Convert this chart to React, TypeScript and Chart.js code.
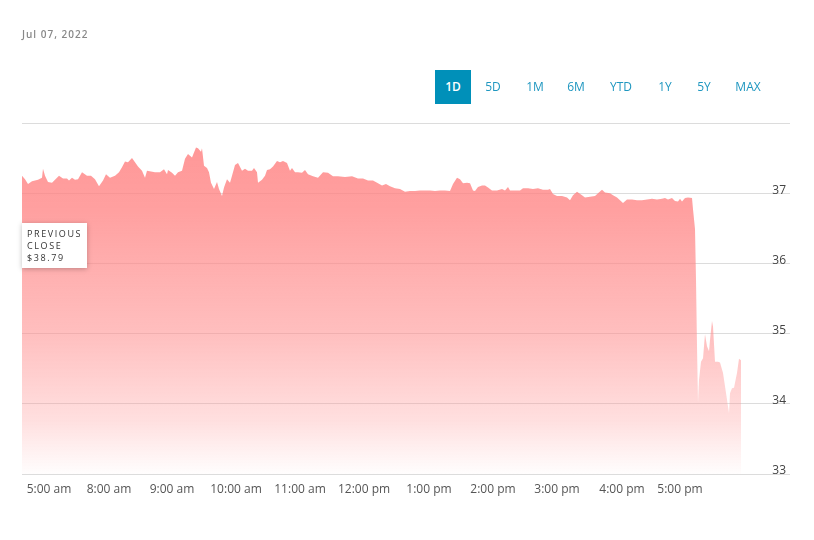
import { useEffect, useRef } from 'react';
import { Chart, registerables } from 'chart.js';

Chart.register(...registerables);

// session index (minute-slot) and price
const TIMES = [
  0, 3, 6, 10, 13, 16, 20, 21, 23, 26, 30, 33, 37, 41, 45, 47, 50, 53, 56, 60,
  65, 69, 73, 77, 81, 84, 88, 93, 97, 100, 103, 106, 110, 113, 116, 120, 123, 125, 129, 133,
  138, 142, 145, 146, 150, 153, 156, 160, 163, 166, 170, 174, 176, 179, 180, 182, 185, 187, 189, 192,
  195, 197, 200, 202, 205, 208, 210, 213, 216, 220, 223, 226, 230, 232, 235, 236, 240, 243, 245, 248,
  251, 255, 258, 261, 265, 268, 270, 273, 276, 280, 283, 286, 291, 296, 301, 306, 311, 316, 323, 330,
  336, 341, 346, 351, 356, 360, 364, 368, 373, 378, 383, 388, 393, 398, 403, 408, 413, 418, 423, 428,
  431, 435, 438, 441, 445, 448, 451, 453, 456, 460, 463, 466, 470, 475, 480, 483, 486, 488, 493, 498,
  501, 506, 511, 516, 521, 526, 528, 531, 535, 540, 545, 548, 551, 555, 560, 563, 568, 573, 576, 580,
  583, 588, 591, 595, 598, 601, 605, 610, 615, 620, 625, 630, 635, 640, 643, 646, 650, 653, 656, 658,
  660, 663, 666, 670, 671, 673, 674, 675, 676, 677, 679, 681, 683, 685, 687, 688, 690, 691, 693, 696,
  698, 701, 703, 706, 707, 708, 710, 712, 715, 717, 719,
];
const PRICES = [
  37.25, 37.2, 37.13, 37.17, 37.18, 37.19, 37.22, 37.35, 37.25, 37.16, 37.15, 37.19, 37.25, 37.21, 37.21, 37.18, 37.22, 37.19, 37.2, 37.3,
  37.25, 37.25, 37.2, 37.1, 37.18, 37.27, 37.22, 37.25, 37.3, 37.37, 37.45, 37.44, 37.5, 37.44, 37.38, 37.32, 37.22, 37.32, 37.31, 37.3,
  37.3, 37.34, 37.27, 37.33, 37.29, 37.25, 37.3, 37.32, 37.49, 37.56, 37.51, 37.65, 37.64, 37.59, 37.64, 37.39, 37.36, 37.3, 37.15, 37.06,
  37.16, 37.06, 36.96, 37.08, 37.2, 37.15, 37.25, 37.4, 37.43, 37.32, 37.35, 37.32, 37.32, 37.36, 37.3, 37.15, 37.19, 37.25, 37.33, 37.34,
  37.38, 37.46, 37.44, 37.46, 37.43, 37.32, 37.36, 37.3, 37.3, 37.29, 37.33, 37.27, 37.24, 37.22, 37.3, 37.29, 37.24, 37.24, 37.23, 37.24,
  37.21, 37.21, 37.18, 37.18, 37.14, 37.11, 37.13, 37.1, 37.07, 37.06, 37.02, 37.03, 37.03, 37.04, 37.04, 37.04, 37.03, 37.04, 37.04, 37.03,
  37.13, 37.22, 37.2, 37.14, 37.15, 37.14, 37.04, 37.03, 37.09, 37.11, 37.11, 37.08, 37.04, 37.04, 37.06, 37.04, 37.09, 37.04, 37.04, 37.04,
  37.07, 37.07, 37.06, 37.07, 37.05, 37.05, 37.06, 36.99, 36.96, 36.96, 36.94, 36.9, 36.97, 37.02, 36.97, 36.94, 36.95, 36.96, 37.0, 37.05,
  37.01, 37.0, 36.97, 36.94, 36.9, 36.86, 36.91, 36.91, 36.9, 36.9, 36.91, 36.92, 36.91, 36.92, 36.93, 36.91, 36.93, 36.89, 36.88, 36.92,
  36.88, 36.93, 36.94, 36.93, 36.77, 36.49, 35.77, 34.82, 34.02, 34.34, 34.6, 34.65, 34.99, 34.82, 34.75, 34.91, 35.18, 35.1, 34.6, 34.6,
  34.59, 34.44, 34.25, 33.96, 33.87, 34.15, 34.22, 34.23, 34.44, 34.64, 34.62,
];

const X_MAX = 768;
const TICK_POS = [27, 87, 150, 214, 278, 342, 407, 471, 535, 600, 658];
const TICK_LABELS = ['5:00 am', '8:00 am', '9:00 am', '10:00 am', '11:00 am', '12:00 pm', '1:00 pm', '2:00 pm', '3:00 pm', '4:00 pm', '5:00 pm'];
const Y_TICKS = [33, 34, 35, 36, 37, 38];
const Y_MIN = 33;
const Y_MAX = 38;
const RANGES = ['1D', '5D', '1M', '6M', 'YTD', '1Y', '5Y', 'MAX'];
const RANGE_CENTERS = [453, 493, 535, 576, 621, 665, 704, 748];
const ACTIVE_RANGE = '1D';
const DATE_LABEL = 'Jul 07, 2022';
const PREV_CLOSE_LINES = ['PREVIOUS', 'CLOSE', '$38.79'];

const FONT = '"Open Sans", "DejaVu Sans", sans-serif';

export default function App() {
  const ref = useRef<HTMLCanvasElement>(null);

  useEffect(() => {
    document.body.style.margin = '0';
    const canvas = ref.current!;
    const chart = new Chart(canvas, {
      type: 'line',
      data: {
        datasets: [
          {
            data: TIMES.map((t, i) => ({ x: t, y: PRICES[i] })),
            fill: 'start',
            borderWidth: 0,
            borderColor: 'rgba(0,0,0,0)',
            pointRadius: 0,
            tension: 0,
            backgroundColor: (ctx: any) => {
              const { chart } = ctx;
              const area = chart.chartArea;
              if (!area) return 'rgba(255,120,120,0.75)';
              const g = chart.ctx.createLinearGradient(0, area.top, 0, area.bottom);
              g.addColorStop(0, 'rgba(255,125,125,0.82)');
              g.addColorStop(0.25, 'rgba(255,130,130,0.76)');
              g.addColorStop(0.6, 'rgba(255,140,140,0.56)');
              g.addColorStop(0.85, 'rgba(255,150,150,0.3)');
              g.addColorStop(1, 'rgba(255,160,160,0.02)');
              return g;
            },
          },
        ],
      },
      options: {
        animation: false,
        responsive: false,
        maintainAspectRatio: false,
        layout: { padding: { left: 22, right: 24, top: 123, bottom: 36 } },
        plugins: { legend: { display: false }, tooltip: { enabled: false } },
        scales: {
          x: {
            type: 'linear',
            min: 0,
            max: X_MAX,
            afterBuildTicks: (s: any) => {
              s.ticks = TICK_POS.map((v) => ({ value: v }));
            },
            afterFit: (s: any) => {
              s.height = 30;
            },
            ticks: {
              autoSkip: false,
              maxRotation: 0,
              padding: 0,
              color: '#555',
              font: { family: FONT, size: 12 },
              callback: (v: any) => {
                const i = TICK_POS.indexOf(Number(v));
                return i >= 0 ? TICK_LABELS[i] : '';
              },
            },
            grid: { display: false },
            border: { display: false },
          },
          y: {
            position: 'right',
            min: Y_MIN,
            max: Y_MAX,
            afterBuildTicks: (s: any) => {
              s.ticks = Y_TICKS.map((v) => ({ value: v }));
            },
            afterFit: (s: any) => {
              s.width = 0;
            },
            ticks: {
              mirror: true,
              padding: -4,
              labelOffset: -3,
              color: '#444',
              font: { family: FONT, size: 12 },
              callback: (v: any) => (Number(v) === Y_MAX ? '' : String(v)),
            },
            grid: { color: '#dcdcdc', drawTicks: false, lineWidth: 1 },
            border: { display: false },
          },
        },
      },
    } as any);
    return () => chart.destroy();
  }, []);

  return (
    <div style={{ position: 'relative', width: 814, height: 540, background: '#fff', fontFamily: FONT }}>
      <canvas ref={ref} width={814} height={540} style={{ position: 'absolute', left: 0, top: 0, width: 814, height: 540 }} />
      <div
        style={{
          position: 'absolute',
          left: 22,
          top: 27,
          fontSize: 10,
          letterSpacing: 1,
          color: '#888',
          fontWeight: 600,
        }}
      >
        {DATE_LABEL}
      </div>
      {RANGES.map((r, i) => {
        const active = r === ACTIVE_RANGE;
        return (
          <div
            key={r}
            style={{
              position: 'absolute',
              left: RANGE_CENTERS[i] - 18,
              top: 70,
              width: 36,
              height: 34,
              lineHeight: '34px',
              textAlign: 'center',
              whiteSpace: 'nowrap',
              fontSize: 12,
              color: active ? '#fff' : '#1f97c0',
              background: active ? '#0090b9' : 'transparent',
              fontWeight: active ? 600 : 400,
            }}
          >
            {r}
          </div>
        );
      })}
      <div
        style={{
          position: 'absolute',
          left: 22,
          top: 223,
          width: 65,
          height: 45,
          boxSizing: 'border-box',
          padding: '5px 5px 4px',
          background: '#fff',
          boxShadow: '0 1px 5px rgba(0,0,0,0.25)',
          fontSize: 9,
          lineHeight: '12px',
          letterSpacing: 1.6,
          color: '#333',
        }}
      >
        {PREV_CLOSE_LINES.map((l) => (
          <div key={l}>{l}</div>
        ))}
      </div>
    </div>
  );
}
